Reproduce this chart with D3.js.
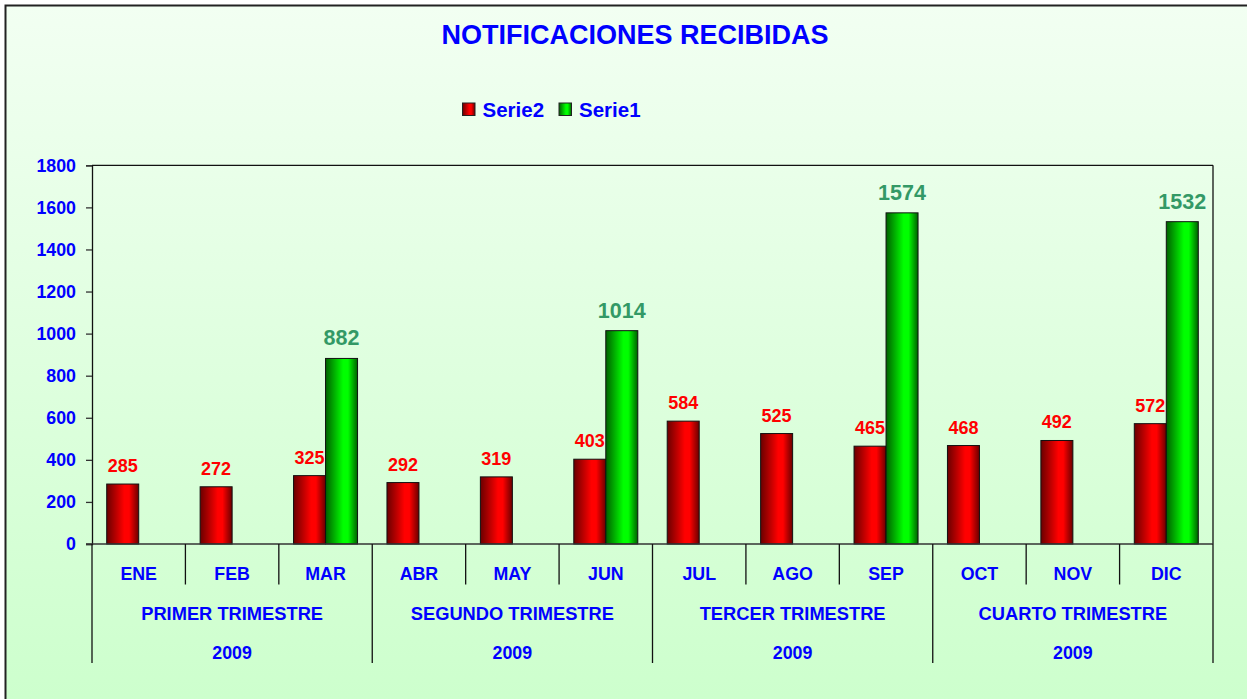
<!DOCTYPE html>
<html>
<head>
<meta charset="utf-8">
<script src="https://cdn.jsdelivr.net/npm/d3@7"></script>
<style>
  html, body { margin: 0; padding: 0; background: #fff; }
  svg { display: block; }
  text { font-family: "Liberation Sans", Arial, sans-serif; font-weight: bold; }
</style>
</head>
<body>
<svg id="chart" width="1247" height="699"></svg>
<script>
const months = ["ENE","FEB","MAR","ABR","MAY","JUN","JUL","AGO","SEP","OCT","NOV","DIC"];
const quarters = ["PRIMER TRIMESTRE","SEGUNDO TRIMESTRE","TERCER TRIMESTRE","CUARTO TRIMESTRE"];
const years = ["2009","2009","2009","2009"];
const serie2 = [285,272,325,292,319,403,584,525,465,468,492,572];
const serie1 = [null,null,882,null,null,1014,null,null,1574,null,null,1532];
const yTicks = [0,200,400,600,800,1000,1200,1400,1600,1800];
const seriesNames = ["Serie2","Serie1"];

(function(){
const W = 1247, H = 699;
const svg = d3.select("#chart");
const defs = svg.append("defs");

const bg = defs.append("linearGradient").attr("id","bg").attr("x1",0).attr("y1",0).attr("x2",0).attr("y2",1);
bg.append("stop").attr("offset","0%").attr("stop-color","#F2FFF2");
bg.append("stop").attr("offset","100%").attr("stop-color","#CCFFCC");

function barGrad(id, dark, bright) {
  const g = defs.append("linearGradient").attr("id",id).attr("x1",0).attr("y1",0).attr("x2",1).attr("y2",0);
  g.append("stop").attr("offset","0%").attr("stop-color",dark);
  g.append("stop").attr("offset","55%").attr("stop-color",bright);
  g.append("stop").attr("offset","70%").attr("stop-color",bright);
  g.append("stop").attr("offset","100%").attr("stop-color",dark);
}
barGrad("gRed", "#6a0000", "#FF0000");
barGrad("gGreen", "#006000", "#00FF00");

svg.append("rect").attr("x",5.5).attr("y",5.5).attr("width",W+10).attr("height",H+10)
  .attr("fill","url(#bg)").attr("stroke","#222").attr("stroke-width",2);

const pLeft = 92, pRight = 1213, pTop = 165.3, pBottom = 544;
const x = d3.scaleBand().domain(months).range([pLeft, pRight]).padding(0);
const y = d3.scaleLinear().domain([0, 1800]).range([pBottom, pTop]);
const barW = 32;

// title
svg.append("text").attr("x", 635).attr("y", 44).attr("text-anchor","middle")
  .attr("fill","#0000FF").style("font-size","27px").text("NOTIFICACIONES RECIBIDAS");

// legend
const legend = svg.append("g");
const legItems = [{name: seriesNames[0], fill: "url(#gRed)", x: 462.5}, {name: seriesNames[1], fill: "url(#gGreen)", x: 559}];
legItems.forEach(d => {
  legend.append("rect").attr("x", d.x).attr("y", 103).attr("width", 12.5).attr("height", 12.5)
    .attr("fill", d.fill).attr("stroke","#222").attr("stroke-width",1);
  legend.append("text").attr("x", d.x + 20).attr("y", 117).attr("fill","#0000FF")
    .style("font-size","20.5px").text(d.name);
});

// plot border top/right
svg.append("line").attr("x1",pLeft).attr("x2",pRight).attr("y1",pTop).attr("y2",pTop).attr("stroke","#111").attr("stroke-width",1.3);
svg.append("line").attr("x1",pRight).attr("x2",pRight).attr("y1",pTop).attr("y2",pBottom).attr("stroke","#111").attr("stroke-width",1.3);

// y axis
const yAxis = d3.axisLeft(y).tickValues(yTicks).tickFormat(d3.format("d")).tickSize(6).tickPadding(10);
const yg = svg.append("g").attr("transform",`translate(${pLeft},0)`).call(yAxis);
yg.select(".domain").attr("stroke","#111").attr("stroke-width",1.3);
yg.selectAll(".tick line").attr("stroke","#333").attr("stroke-width",1.3);
yg.selectAll(".tick text").attr("fill","#0000FF").style("font-size","17.8px")
  .style("font-family","Liberation Sans, Arial, sans-serif").style("font-weight","bold");

// bars
const g = svg.append("g");
g.selectAll(".b2").data(months).enter().append("rect")
  .attr("x", d => x(d) + x.bandwidth()/2 - barW)
  .attr("y", (d,i) => y(serie2[i]))
  .attr("width", barW)
  .attr("height", (d,i) => y(0) - y(serie2[i]))
  .attr("fill","url(#gRed)").attr("stroke","#111").attr("stroke-width",1);
g.selectAll(".b1").data(months.filter((d,i) => serie1[i] != null)).enter().append("rect")
  .attr("x", d => x(d) + x.bandwidth()/2)
  .attr("y", d => y(serie1[months.indexOf(d)]))
  .attr("width", barW)
  .attr("height", d => y(0) - y(serie1[months.indexOf(d)]))
  .attr("fill","url(#gGreen)").attr("stroke","#111").attr("stroke-width",1);

// labels
g.selectAll(".l2").data(months).enter().append("text")
  .attr("x", d => x(d) + x.bandwidth()/2 - barW/2)
  .attr("y", (d,i) => y(serie2[i]) - 12)
  .attr("text-anchor","middle").attr("fill","#FF0000").style("font-size","18px")
  .text((d,i) => serie2[i]);
g.selectAll(".l1").data(months.filter((d,i) => serie1[i] != null)).enter().append("text")
  .attr("x", d => x(d) + x.bandwidth()/2 + barW/2)
  .attr("y", d => y(serie1[months.indexOf(d)]) - 13)
  .attr("text-anchor","middle").attr("fill","#339966").style("font-size","21.5px")
  .text(d => serie1[months.indexOf(d)]);

// x axis baseline
svg.append("line").attr("x1",pLeft-6).attr("x2",pRight).attr("y1",pBottom).attr("y2",pBottom).attr("stroke","#333").attr("stroke-width",1.5);

// separators
const bounds = d3.range(0, 13);
svg.selectAll(".sep").data(bounds).enter().append("line")
  .attr("x1", i => i < 12 ? x(months[i]) : pRight)
  .attr("x2", i => i < 12 ? x(months[i]) : pRight)
  .attr("y1", pBottom)
  .attr("y2", i => i % 3 === 0 ? 663 : 584.5)
  .attr("stroke","#111").attr("stroke-width",1.3);

// month labels
svg.selectAll(".ml").data(months).enter().append("text")
  .attr("x", d => x(d) + x.bandwidth()/2).attr("y", 580)
  .attr("text-anchor","middle").attr("fill","#0000FF").style("font-size","17.8px").text(d => d);

// quarter labels
svg.selectAll(".ql").data(quarters).enter().append("text")
  .attr("x", (d,i) => (x(months[i*3]) + x(months[i*3+2]) + x.bandwidth())/2).attr("y", 620)
  .attr("text-anchor","middle").attr("fill","#0000FF").style("font-size","18.3px").text(d => d);

svg.selectAll(".yl").data(years).enter().append("text")
  .attr("x", (d,i) => (x(months[i*3]) + x(months[i*3+2]) + x.bandwidth())/2).attr("y", 659)
  .attr("text-anchor","middle").attr("fill","#0000FF").style("font-size","17.8px").text(d => d);
})();
</script>
</body>
</html>
